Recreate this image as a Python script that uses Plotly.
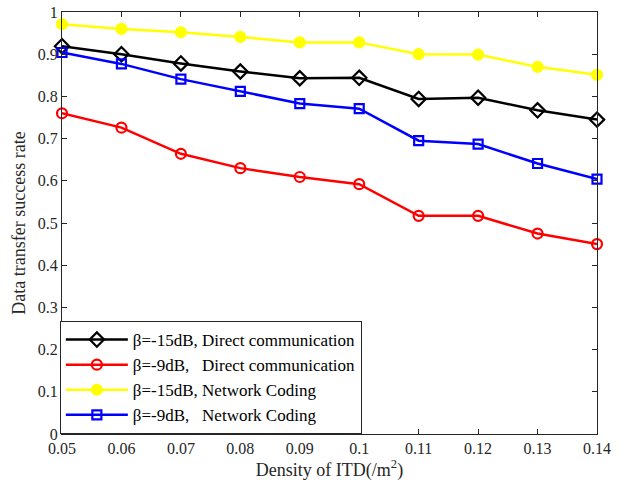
import plotly.graph_objects as go

x_vals = [0.05, 0.06, 0.07, 0.08, 0.09, 0.10, 0.11, 0.12, 0.13, 0.14]
x_ticktext = ["0.05", "0.06", "0.07", "0.08", "0.09", "0.1", "0.11", "0.12", "0.13", "0.14"]
y_tickvals = [0, 0.1, 0.2, 0.3, 0.4, 0.5, 0.6, 0.7, 0.8, 0.9, 1.0]
y_ticktext = ["0", "0.1", "0.2", "0.3", "0.4", "0.5", "0.6", "0.7", "0.8", "0.9", "1"]

direct_15 = [0.919, 0.900, 0.878, 0.859, 0.843, 0.844, 0.794, 0.797, 0.767, 0.745]
direct_9 = [0.760, 0.726, 0.664, 0.630, 0.609, 0.592, 0.517, 0.517, 0.475, 0.450]
nc_15 = [0.971, 0.960, 0.952, 0.941, 0.928, 0.928, 0.900, 0.899, 0.870, 0.851]
nc_9 = [0.904, 0.877, 0.841, 0.812, 0.783, 0.771, 0.695, 0.687, 0.641, 0.604]

names = ["β=-15dB, Direct communication",
         "β=-9dB,&nbsp;&nbsp; Direct communication",
         "β=-15dB, Network Coding",
         "β=-9dB,&nbsp;&nbsp; Network Coding"]

series = [
    (direct_15, names[0], "#000000", "diamond-open", 11),
    (direct_9, names[1], "#ff0000", "circle-open", 10),
    (nc_15, names[2], "#ffff00", "circle", 10),
    (nc_9, names[3], "#0000ff", "square-open", 9),
]

fig = go.Figure()
for ys, nm, col, sym, sz in series:
    fig.add_trace(go.Scatter(
        x=x_vals, y=ys, name=nm, mode="lines+markers",
        line=dict(color=col, width=2.5),
        marker=dict(symbol=sym, size=sz, color=col, line=dict(color=col, width=2.2)),
        cliponaxis=False,
    ))

axis_common = dict(
    automargin=False,
    showline=True, linecolor="#262626", linewidth=1, mirror="ticks",
    ticks="inside", ticklen=5, tickcolor="#262626", showgrid=False, zeroline=False,
    ticklabeloverflow="allow",
    tickfont=dict(family="Liberation Serif", size=16, color="#262626"),
)

fig.update_layout(
    template="none",
    width=625, height=484,
    margin=dict(l=62, r=28, t=12, b=50),
    paper_bgcolor="white", plot_bgcolor="white",
    font=dict(family="Liberation Serif", size=16, color="#262626"),
    xaxis=dict(range=[0.05, 0.14], tickvals=x_vals, ticktext=x_ticktext,
               title=dict(text="Density of ITD(/m<sup>2</sup>)", standoff=3,
                          font=dict(family="Liberation Serif", size=18, color="#262626")),
               **axis_common),
    yaxis=dict(range=[0, 1], tickvals=y_tickvals, ticktext=y_ticktext,
               title=dict(text="Data transfer success rate", standoff=7,
                          font=dict(family="Liberation Serif", size=18, color="#262626")),
               **axis_common),
    legend=dict(x=-0.004, y=0, xanchor="left", yanchor="bottom",
                bgcolor="white", bordercolor="#262626", borderwidth=1,
                font=dict(family="Liberation Serif", size=17, color="#000000"),
                tracegroupgap=0, itemwidth=62),
    showlegend=True,
)

# remove the page's default 8px body margin so the figure fills the window exactly
fig.write_html("out.html", config={"displayModeBar": False},
               post_script="document.body.style.margin='0';")
